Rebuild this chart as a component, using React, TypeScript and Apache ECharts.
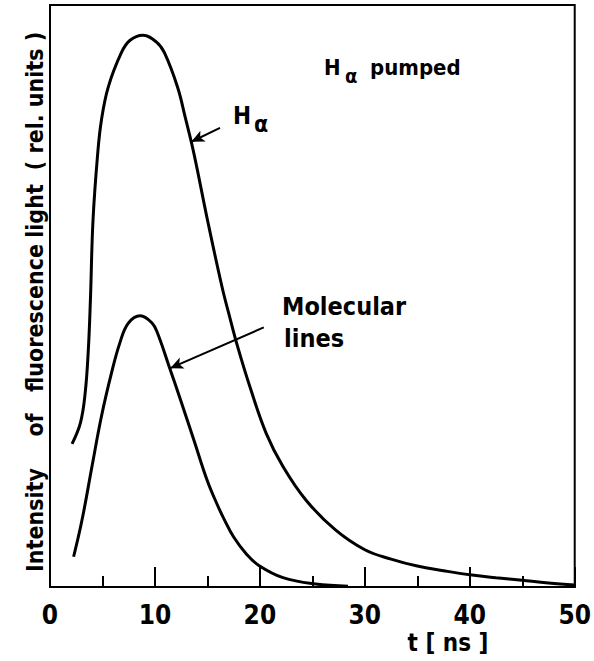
import React, { useEffect, useRef } from "react";
import * as echarts from "echarts";

// H-alpha fluorescence (time in ns, intensity in rel. units 0..100)
const haTime = [2.1, 2.9, 3.35, 3.65, 3.85, 4.1, 4.55, 4.9, 5.55, 6.8, 7.6, 8.85, 10.1, 10.9, 12.15, 12.9, 13.7, 15.0, 16.4, 17.15, 17.8, 19.05, 20.6, 22.2, 24.4, 27.2, 30.0, 32.5, 35.0, 37.5, 40.0, 42.5, 45.0, 47.5, 50];
const haValue = [24.6, 28.2, 33.3, 40.7, 49.3, 63.1, 74.6, 80.2, 85.9, 91.8, 93.9, 94.8, 93.7, 91.8, 85.9, 80.6, 74.6, 63.1, 51.5, 46.2, 41.8, 34.4, 26.4, 20.7, 14.9, 9.8, 6.4, 4.8, 3.6, 2.8, 2.1, 1.6, 1.15, 0.7, 0.35];

// Molecular lines fluorescence
const molTime = [2.25, 3.05, 4.0, 4.9, 5.85, 6.65, 7.45, 8.6, 9.7, 10.25, 11.35, 12.45, 13.7, 15.0, 15.9, 16.55, 17.5, 18.75, 19.9, 22.2, 25.3, 28.4];
const molValue = [5.2, 11.5, 20.7, 29.3, 36.7, 41.9, 45.3, 46.6, 45.4, 43.6, 37.9, 32.1, 25.3, 18.2, 14.3, 11.8, 8.6, 5.6, 3.7, 1.6, 0.5, 0.15];

const xTicks = [0, 10, 20, 30, 40, 50];

// annotation arrows [fromT, fromV, toT, toV]
const haArrow = [16.2, 78.9, 13.47, 76.5];
const molArrow = [20.37, 44.6, 11.46, 37.6];

const FONT = "'DejaVu Sans Condensed', 'DejaVu Sans', 'Liberation Sans', sans-serif";

export default function App() {
  const ref = useRef<HTMLDivElement>(null);
  useEffect(() => {
    if (!ref.current) return;
    const chart = echarts.init(ref.current, null, { renderer: "svg" });
    const haData = haTime.map((t, i) => [t, haValue[i]]);
    const molData = molTime.map((t, i) => [t, molValue[i]]);
    const arrowLine = (a: number[]) => ({
      silent: true,
      symbol: ["none", "arrow"],
      symbolSize: [9, 13],
      label: { show: false },
      lineStyle: { color: "#000", width: 2, type: "solid" },
      emphasis: { disabled: true },
      data: [[{ coord: [a[0], a[1]] }, { coord: [a[2], a[3]] }]],
    });
    const txt = (text: string, x: number, y: number, size: number, extra: any = {}) => ({
      type: "text",
      x,
      y,
      silent: true,
      style: {
        text,
        fill: "#000",
        font: `bold ${size}px ${FONT}`,
        textAlign: extra.align || "left",
        textVerticalAlign: "middle",
      },
    });
    const rot = (text: string, cy: number) => ({
      type: "text",
      x: 35,
      y: cy,
      rotation: Math.PI / 2,
      silent: true,
      style: {
        text,
        fill: "#000",
        font: `bold 23px ${FONT}`,
        textAlign: "center",
        textVerticalAlign: "middle",
      },
    });
    chart.setOption({
      animation: false,
      backgroundColor: "#fff",
      grid: {
        left: 50,
        right: 12,
        top: 5,
        bottom: 74,
        show: true,
        borderColor: "#000",
        borderWidth: 2,
      },
      xAxis: {
        type: "value",
        min: 0,
        max: 50,
        interval: 10,
        axisLine: { show: true, lineStyle: { color: "#000", width: 2 } },
        axisTick: { show: true, inside: true, length: 20, lineStyle: { color: "#000", width: 2 } },
        minorTick: { show: true, splitNumber: 2, length: 11, lineStyle: { color: "#000", width: 2 } },
        splitLine: { show: false },
        axisLabel: {
          color: "#000",
          fontSize: 26,
          fontWeight: "bold",
          fontFamily: FONT,
          margin: 15,
          formatter: (v: number) => (xTicks.includes(v) ? String(v) : ""),
        },
      },
      yAxis: {
        type: "value",
        min: 0,
        max: 100,
        axisLine: { show: true, lineStyle: { color: "#000", width: 2 } },
        axisTick: { show: false },
        axisLabel: { show: false },
        splitLine: { show: false },
      },
      series: [
        {
          name: "Hα",
          type: "line",
          data: haData,
          smooth: 0.4,
          showSymbol: false,
          lineStyle: { color: "#000", width: 3 },
          markLine: arrowLine(haArrow),
        },
        {
          name: "Molecular lines",
          type: "line",
          data: molData,
          smooth: 0.4,
          showSymbol: false,
          lineStyle: { color: "#000", width: 3 },
          markLine: arrowLine(molArrow),
        },
      ],
      graphic: [
        txt("H", 324, 67, 22),
        txt("α", 345, 76, 20),
        txt("pumped", 370, 67, 22),
        txt("H", 233, 116, 24),
        txt("α", 254, 124, 23),
        txt("Molecular", 282, 306, 25),
        txt("lines", 284, 338, 25),
        txt("t [ ns ]", 448, 643, 24, { align: "center" }),
        rot("Intensity", 520),
        rot("of", 425),
        rot("fluorescence", 318),
        rot("light", 211),
        rot("( rel. units )", 101),
      ],
    });
    return () => chart.dispose();
  }, []);
  return (
    <div
      ref={ref}
      style={{ position: "absolute", left: 0, top: 0, width: 594, height: 661 }}
    />
  );
}
